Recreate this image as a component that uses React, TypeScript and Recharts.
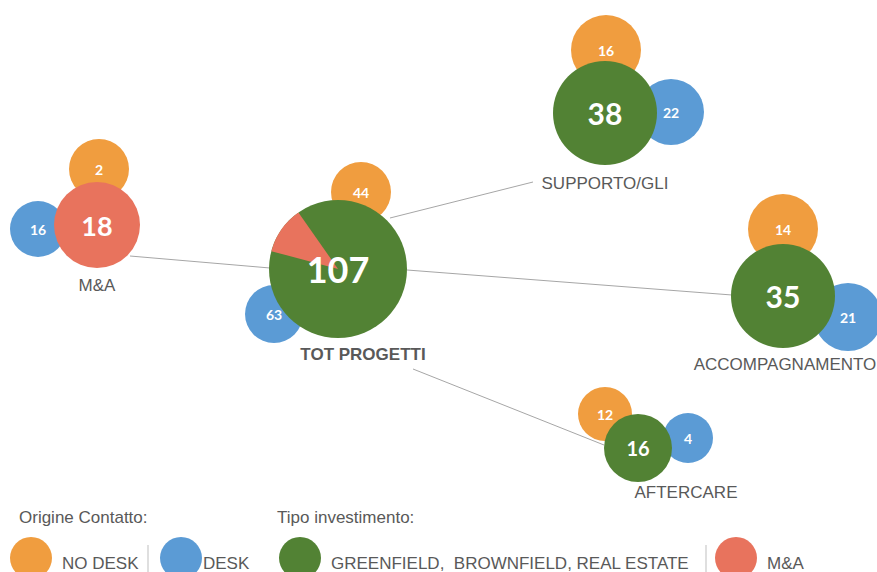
import React from 'react';
import { ScatterChart, Scatter, XAxis, YAxis, ReferenceLine } from 'recharts';

// ---- data ----
const categories = ['TOT PROGETTI', 'M&A', 'SUPPORTO/GLI', 'ACCOMPAGNAMENTO', 'AFTERCARE'];
const totalProjects = [107, 18, 38, 35, 16];
const noDeskCounts = [44, 2, 16, 14, 12];
const deskCounts = [63, 16, 22, 21, 4];
const legendOrigin = ['NO DESK', 'DESK'];
const legendType = ['GREENFIELD,  BROWNFIELD, REAL ESTATE', 'M&A'];

// ---- layout (pixel-space coordinates of the diagram) ----
const W = 877;
const H = 572;
const layout = [
  { c: [338, 269, 69], nd: [361, 192, 30], d: [274, 314, 29], lab: [363, 354], fs: 36, fill: 'pie' },
  { c: [97, 225, 43], nd: [99, 169, 30], d: [38, 229, 28], lab: [97, 285], fs: 27, fill: 'red' },
  { c: [605, 113, 52], nd: [606, 50, 35], d: [671, 112, 33], lab: [605, 183], fs: 30, fill: 'green' },
  { c: [783, 296, 52], nd: [783, 229, 35], d: [848, 317, 34], lab: [785, 364], fs: 30, fill: 'green' },
  { c: [638, 448, 34], nd: [605, 414, 27], d: [688, 438, 25], lab: [686, 492], fs: 20, fill: 'green' },
];
const links = [
  [[130, 256], [270, 268]],
  [[390, 218], [533, 182]],
  [[407, 270], [732, 295]],
  [[413, 369], [604, 445]],
];

const ORANGE = '#F09D3F';
const BLUE = '#5B9BD5';
const GREEN = '#528234';
const RED = '#E8735D';
const GRAY = '#595959';
const NUM_FONT = 'Lato, "Open Sans", sans-serif';
const LAB_FONT = '"Liberation Sans", Arial, sans-serif';

const noDeskData = categories.map((name, i) => ({
  name, value: noDeskCounts[i], x: layout[i].nd[0], y: layout[i].nd[1], r: layout[i].nd[2],
}));
const deskData = categories.map((name, i) => ({
  name, value: deskCounts[i], x: layout[i].d[0], y: layout[i].d[1], r: layout[i].d[2],
}));
const mainData = categories.map((name, i) => ({
  name, value: totalProjects[i], x: layout[i].c[0], y: layout[i].c[1], r: layout[i].c[2],
  fs: layout[i].fs, fill: layout[i].fill, lx: layout[i].lab[0], ly: layout[i].lab[1], idx: i,
}));

const SmallBubble = (color: string) => (props: any) => {
  const { cx, cy, payload } = props;
  return (
    <g>
      <circle cx={cx} cy={cy} r={payload.r} fill={color} />
      <text x={cx} y={cy} textAnchor="middle" dominantBaseline="central" fill="#fff"
        fontFamily={NUM_FONT} fontWeight={700} fontSize={14}>{payload.value}</text>
    </g>
  );
};

const MainBubble = (props: any) => {
  const { cx, cy, payload } = props;
  const r = payload.r;
  let body: any;
  if (payload.fill === 'pie') {
    const a1 = (125 * Math.PI) / 180;
    const a2 = (165 * Math.PI) / 180;
    const p1 = [cx + r * Math.cos(a1), cy - r * Math.sin(a1)];
    const p2 = [cx + r * Math.cos(a2), cy - r * Math.sin(a2)];
    body = (
      <g>
        <circle cx={cx} cy={cy} r={r} fill={GREEN} />
        <path d={`M${cx},${cy} L${p1[0]},${p1[1]} A${r},${r} 0 0 0 ${p2[0]},${p2[1]} Z`} fill={RED} />
      </g>
    );
  } else {
    body = <circle cx={cx} cy={cy} r={r} fill={payload.fill === 'red' ? RED : GREEN} />;
  }
  return (
    <g>
      {body}
      <text x={cx} y={cy} textAnchor="middle" dominantBaseline="central" fill="#fff"
        fontFamily={NUM_FONT} fontWeight={700} fontSize={payload.fs}>{payload.value}</text>
      <text x={payload.lx} y={payload.ly} textAnchor="middle" dominantBaseline="central" fill={GRAY}
        fontFamily={LAB_FONT} fontWeight={payload.idx === 0 ? 700 : 400}
        fontSize={17}>{payload.name}</text>
    </g>
  );
};

const Legend = () => (
  <svg width={W} height={H} style={{ position: 'absolute', left: 0, top: 0, pointerEvents: 'none' }}>
    <g fontFamily={LAB_FONT} fill={GRAY}>
      <text x={19} y={517} dominantBaseline="central" fontSize={17}>Origine Contatto:</text>
      <text x={277} y={517} dominantBaseline="central" fontSize={17}>Tipo investimento:</text>
      <circle cx={31} cy={558} r={21} fill={ORANGE} />
      <text x={62} y={563} dominantBaseline="central" fontSize={17}>{legendOrigin[0]}</text>
      <line x1={148} y1={545} x2={148} y2={572} stroke="#BFBFBF" />
      <circle cx={181} cy={558} r={21} fill={BLUE} />
      <text x={203} y={563} dominantBaseline="central" fontSize={17}>{legendOrigin[1]}</text>
      <circle cx={300} cy={558} r={21} fill={GREEN} />
      <text x={331} y={563} dominantBaseline="central" fontSize={17} style={{ whiteSpace: 'pre' }}>{legendType[0]}</text>
      <line x1={706} y1={545} x2={706} y2={572} stroke="#BFBFBF" />
      <circle cx={736} cy={558} r={21} fill={RED} />
      <text x={767} y={563} dominantBaseline="central" fontSize={17}>{legendType[1]}</text>
    </g>
  </svg>
);

export default function App() {
  return (
    <div style={{ position: 'absolute', left: 0, top: 0, width: W, height: H, background: '#fff', overflow: 'hidden' }}>
      <ScatterChart width={W} height={H} margin={{ top: 0, right: 0, bottom: 0, left: 0 }}>
        <XAxis type="number" dataKey="x" domain={[0, W]} hide />
        <YAxis type="number" dataKey="y" domain={[0, H]} reversed hide width={0} />
        {links.map((l, i) => (
          <ReferenceLine key={i} segment={[{ x: l[0][0], y: l[0][1] }, { x: l[1][0], y: l[1][1] }]}
            stroke="#A6A6A6" strokeWidth={1} ifOverflow="visible" />
        ))}
        <Scatter data={noDeskData} shape={SmallBubble(ORANGE)} isAnimationActive={false} />
        <Scatter data={deskData} shape={SmallBubble(BLUE)} isAnimationActive={false} />
        <Scatter data={mainData} shape={MainBubble} isAnimationActive={false} />
      </ScatterChart>
      <Legend />
    </div>
  );
}
